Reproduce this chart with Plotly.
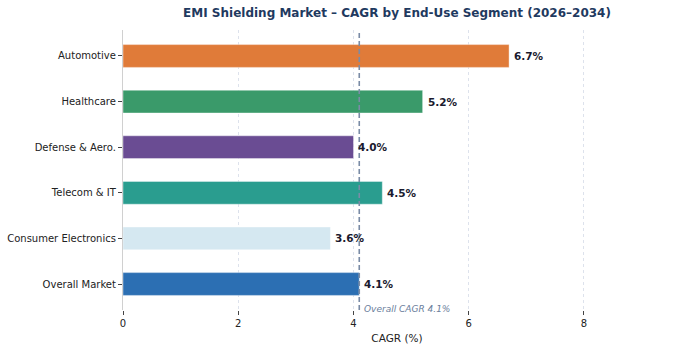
import plotly.graph_objects as go

categories = ["Automotive", "Healthcare", "Defense & Aero.", "Telecom & IT", "Consumer Electronics", "Overall Market"]
cagr = [6.7, 5.2, 4.0, 4.5, 3.6, 4.1]
colors = ["#E07B39", "#3A9A6A", "#6A4C93", "#2A9D8F", "#D5E8F1", "#2C6FB3"]
overall = 4.1
x_ticks = [0, 2, 4, 6, 8]

font = "DejaVu Sans"
fig = go.Figure()
fig.add_trace(go.Bar(
    x=cagr, y=categories, orientation="h", width=0.5,
    marker=dict(color=colors, line=dict(color="rgba(255,255,255,0.5)", width=0.8)),
    showlegend=False, hoverinfo="skip",
))
for c, v in zip(categories, cagr):
    fig.add_annotation(x=v, y=c, text=f"<b>{v:.1f}%</b>", showarrow=False,
                       xanchor="left", yanchor="middle", xshift=3,
                       font=dict(family=font, size=10.5, color="#1a1a2e"))
fig.add_vline(x=overall, line=dict(color="#7A8BA6", width=1.6, dash="5px,3px"))
fig.add_annotation(x=overall, y=0, yref="paper", text=f"<i>Overall CAGR {overall}%</i>",
                   showarrow=False, xanchor="left", yanchor="middle", xshift=3, yshift=1,
                   font=dict(family=font, size=9, color="#6A7E9C"))

fig.update_layout(
    width=678, height=352, margin=dict(l=123, r=7, t=30, b=42),
    plot_bgcolor="white", paper_bgcolor="white",
    font=dict(family=font, size=10, color="#222222"),
    title=dict(text="<b>EMI Shielding Market – CAGR by End-Use Segment (2026–2034)</b>",
               x=397 / 678, xref="container", xanchor="center", y=0.963, yanchor="middle",
               font=dict(family=font, size=12, color="#1F3A5F")),
    xaxis=dict(range=[0, 9.51], tickvals=x_ticks, ticks="outside", ticklen=4, tickcolor="#444",
               showgrid=True, gridcolor="#DDE2EC", griddash="3px,3px", gridwidth=1,
               zeroline=False, showline=False, automargin=False,
               title=dict(text="CAGR (%)", font=dict(family=font, size=10.5, color="#222"), standoff=6),
               tickfont=dict(size=10, color="#222")),
    yaxis=dict(categoryorder="array", categoryarray=categories, range=[5.57, -0.57],
               ticks="outside", ticklen=4, tickcolor="#444", showgrid=False, zeroline=False,
               showline=True, linecolor="#D0D0D0", linewidth=1.2, automargin=False,
               tickfont=dict(size=10, color="#222")),
)
fig.write_html("out.html")
